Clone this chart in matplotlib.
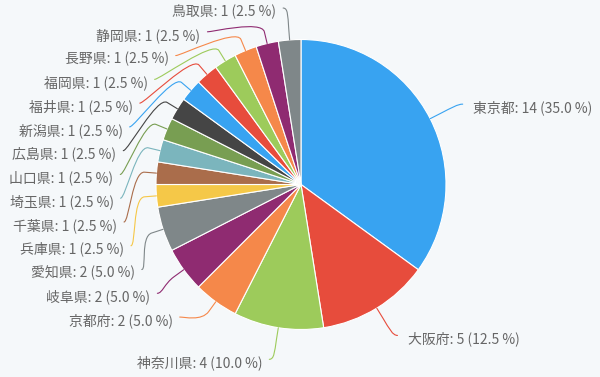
import numpy as np
import matplotlib
matplotlib.use('Agg')
import matplotlib.pyplot as plt
from matplotlib.path import Path
from matplotlib.patches import PathPatch

# ---------------- data ----------------
names = ['東京都', '大阪府', '神奈川県', '京都府', '岐阜県', '愛知県', '兵庫県', '千葉県',
         '埼玉県', '山口県', '広島県', '新潟県', '福井県', '福岡県', '長野県', '静岡県', '鳥取県']
counts = [14, 5, 4, 2, 2, 2, 1, 1, 1, 1, 1, 1, 1, 1, 1, 1, 1]
palette = ['#38a3f1', '#e74c3c', '#9dcb5b', '#f5884a', '#8f2b71', '#7f8789',
           '#f5c848', '#aa6d4b', '#7bb5bd', '#789e52', '#454545']

# ---------------- layout params ----------------
W, H = 600, 377
cx, cy, r = 301.0, 184.5, 145.0
label_dist = 32.0           # distance of labels from the pie edge
R = r + label_dist
break_off = 12.0            # where the connector breaks away from the slice
pad = 4.0                   # horizontal padding of the connector end
box_h = 23.77               # label slot height
join_margin = 14.0          # labels this close to a stack join it
gap_left, gap_right = 7.0, 10.5
text_dy = 3.5
bg = '#f5f8fa'
txt_color = '#666666'
font = ['Noto Sans CJK JP', 'DejaVu Sans']
fsize = 10

fig = plt.figure(figsize=(W / 100, H / 100), dpi=100, facecolor=bg)
ax = fig.add_axes([0, 0, 1, 1])
ax.set_facecolor(bg)

colors = [palette[i % len(palette)] for i in range(len(counts))]
wedges, _ = ax.pie(counts, colors=colors, startangle=-90, counterclock=True,
                   center=(cx, cy), radius=r,
                   wedgeprops=dict(edgecolor='white', linewidth=0.8))
ax.set_xlim(0, W)
ax.set_ylim(H, 0)
ax.set_aspect('auto')
ax.axis('off')

total = float(sum(counts))
items = []
cum = 0.0
for i, (n, v) in enumerate(zip(names, counts)):
    mid = np.deg2rad(-90 + 360 * (cum + v / 2) / total)
    cum += v
    dx, dy = np.cos(mid), np.sin(mid)
    side = 1 if dx >= 0 else -1
    items.append(dict(i=i, name=n, v=v, side=side,
                      A=(cx + r * dx, cy + r * dy),
                      B=(cx + (r + break_off) * dx, cy + (r + break_off) * dy),
                      ny=cy + R * dy))

top_bound, bottom_bound = cy - R, cy + R


def place(side_items):
    side_items.sort(key=lambda it: it['ny'])
    prev = None
    for it in side_items:
        y = min(max(it['ny'], top_bound), bottom_bound)
        if prev is not None and y < prev + box_h + join_margin:
            y = prev + box_h
        it['y'] = y
        prev = y
    for it in side_items:
        d = it['y'] - cy
        w = np.sqrt(max(0.0, R ** 2 - d ** 2))
        it['x'] = cx + it['side'] * (w + pad)


place([it for it in items if it['side'] < 0])
place([it for it in items if it['side'] > 0])


def connector(it):
    L = np.array([it['x'], it['y']])
    A = np.array(it['A'])
    B = np.array(it['B'])
    cp1 = L + np.array([-5.0 * it['side'], 0.0])
    cp2 = 2 * B - A
    verts = [L, cp1, cp2, B, A]
    codes = [Path.MOVETO, Path.CURVE4, Path.CURVE4, Path.CURVE4, Path.LINETO]
    return Path(verts, codes)


for it in items:
    col = colors[it['i']]
    ax.add_patch(PathPatch(connector(it), facecolor='none', edgecolor=col,
                           linewidth=0.8, capstyle='round'))
    pct = it['v'] / total * 100
    label = f"{it['name']}: {it['v']} ({pct:.1f} %)"
    if it['side'] > 0:
        ax.text(it['x'] + gap_right, it['y'] + text_dy, label, ha='left', va='center',
                fontsize=fsize, color=txt_color, family=font)
    else:
        ax.text(it['x'] - gap_left, it['y'] + text_dy, label, ha='right', va='center',
                fontsize=fsize, color=txt_color, family=font)

fig.savefig('out.png', dpi=100, facecolor=bg)
